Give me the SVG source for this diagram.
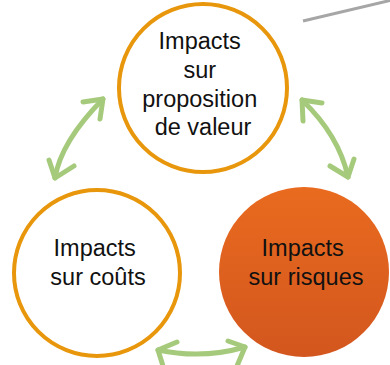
<svg xmlns="http://www.w3.org/2000/svg" width="390" height="365" viewBox="0 0 390 365">
  <style>
    .ring { fill: #ffffff; stroke: #E8970C; stroke-width: 4; }
    .label { font-family: "Liberation Sans", Arial, sans-serif; font-size: 23.5px; fill: #111111; text-anchor: middle; }
    .link { fill: none; stroke: #A6CA7C; stroke-width: 5; stroke-linecap: round; stroke-linejoin: round; }
  </style>
  <defs>
    <linearGradient id="riskFill" x1="0" y1="0" x2="0" y2="1">
      <stop offset="0" stop-color="#E96B1F"/>
      <stop offset="1" stop-color="#D3561E"/>
    </linearGradient>
  </defs>
  <rect width="390" height="365" fill="#ffffff"/>

  <!-- grey rule in the top right corner -->
  <line x1="303" y1="21" x2="392" y2="0" stroke="#A6A6A6" stroke-width="3"/>

  <g id="node-valeur">
    <circle class="ring" cx="203" cy="88" r="84"/>
    <text class="label" x="203" y="49">Impacts
      <tspan x="203" y="77.5">sur</tspan>
      <tspan x="203" y="106.5">proposition</tspan>
      <tspan x="203" y="135">de valeur</tspan>
    </text>
  </g>

  <g id="node-couts">
    <circle class="ring" cx="97" cy="273" r="83"/>
    <text class="label" x="98" y="256">Impacts
      <tspan x="98" y="284.5">sur coûts</tspan>
    </text>
  </g>

  <g id="node-risques">
    <circle cx="304" cy="272" r="85" fill="url(#riskFill)"/>
    <text class="label" x="306" y="256">Impacts
      <tspan x="306" y="284.5">sur risques</tspan>
    </text>
  </g>

  <g id="connectors">
    <!-- valeur <-> coûts -->
    <path class="link" d="M103,99 Q61,141.5 55,178"/>
    <path class="link" d="M83,102 L103,99 L100,119"/>
    <path class="link" d="M49,160 L55,178 L74,166"/>
    <!-- valeur <-> risques -->
    <path class="link" d="M302,100 Q339,135.5 348,177"/>
    <path class="link" d="M322,103 L302,100 L303,121"/>
    <path class="link" d="M330,166 L348,177 L354,159"/>
    <!-- coûts <-> risques -->
    <path class="link" d="M158,350 Q202.5,359.5 245,347"/>
    <path class="link" d="M177,342 L158,350 L163,366"/>
    <path class="link" d="M228,341 L245,347 L237,366"/>
  </g>
</svg>
